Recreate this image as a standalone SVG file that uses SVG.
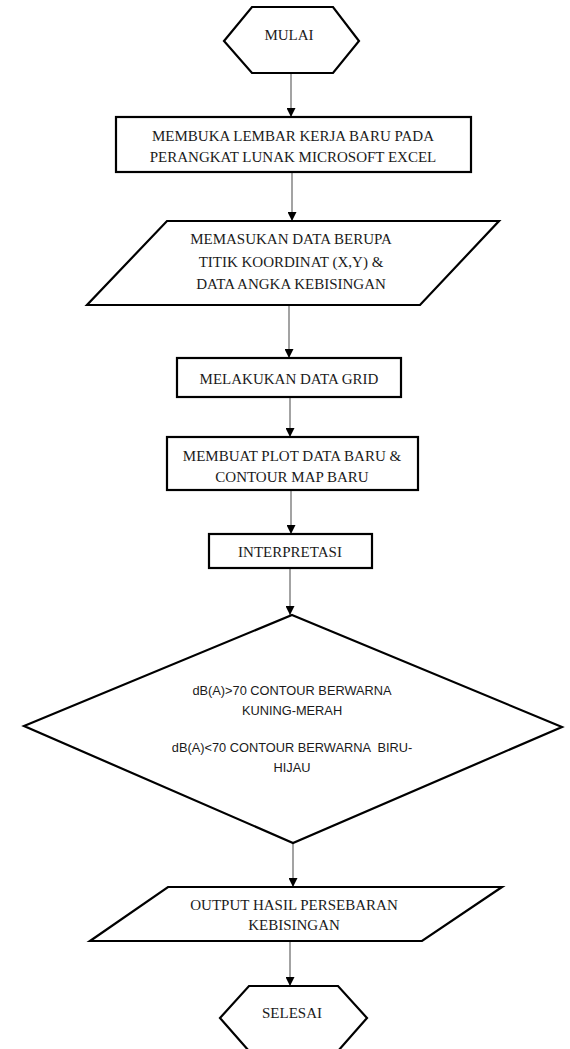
<svg xmlns="http://www.w3.org/2000/svg" width="570" height="1049" viewBox="0 0 570 1049">
<style>
.shape{fill:#fff;stroke:#000;stroke-width:2.2;stroke-linejoin:miter}
.serif{font-family:"Liberation Serif","Times New Roman",serif;font-size:15px;fill:#1a1a1a;text-anchor:middle}
.sans{font-family:"Liberation Sans",Arial,sans-serif;font-size:12.8px;fill:#1a1a1a;text-anchor:middle;white-space:pre}
.conn{stroke:#666;stroke-width:1.2;fill:none;marker-end:url(#arrow)}
</style>
<defs>
<marker id="arrow" markerUnits="userSpaceOnUse" markerWidth="9" markerHeight="9" refX="9" refY="4.5" orient="auto">
<path d="M0,0 L9,4.5 L0,9 z" fill="#000"/>
</marker>
</defs>
<rect width="570" height="1049" fill="#fff"/>
<g id="connectors">
<line class="conn" x1="291" y1="73" x2="291" y2="117"/>
<line class="conn" x1="292" y1="172" x2="292" y2="221"/>
<line class="conn" x1="289" y1="305" x2="289" y2="358"/>
<line class="conn" x1="290" y1="397" x2="290" y2="437"/>
<line class="conn" x1="291" y1="490" x2="291" y2="534"/>
<line class="conn" x1="290" y1="568" x2="290" y2="615"/>
<line class="conn" x1="293" y1="843" x2="293" y2="887"/>
<line class="conn" x1="290" y1="941" x2="290" y2="986"/>
</g>
<g id="mulai">
<polygon class="shape" points="252,7 333,7 359,41 333,73 252,73 224,41"/>
<text class="serif" x="289" y="40">MULAI</text>
</g>
<g id="membuka">
<rect class="shape" x="116" y="117" width="355" height="55"/>
<text class="serif" x="293" y="141">MEMBUKA LEMBAR KERJA BARU PADA</text>
<text class="serif" x="293" y="161.5">PERANGKAT LUNAK MICROSOFT EXCEL</text>
</g>
<g id="memasukan">
<polygon class="shape" points="167,221 499,221 420,305 87,305"/>
<text class="serif" x="291" y="244">MEMASUKAN DATA BERUPA</text>
<text class="serif" x="291" y="267">TITIK KOORDINAT (X,Y) &amp;</text>
<text class="serif" x="291" y="289">DATA ANGKA KEBISINGAN</text>
</g>
<g id="grid">
<rect class="shape" x="177" y="358" width="224" height="39"/>
<text class="serif" x="289" y="384">MELAKUKAN DATA GRID</text>
</g>
<g id="plot">
<rect class="shape" x="167" y="437" width="251" height="53"/>
<text class="serif" x="292" y="461">MEMBUAT PLOT DATA BARU &amp;</text>
<text class="serif" x="292" y="482">CONTOUR MAP BARU</text>
</g>
<g id="interpretasi">
<rect class="shape" x="209" y="534" width="163" height="34"/>
<text class="serif" x="290" y="557">INTERPRETASI</text>
</g>
<g id="keputusan">
<polygon class="shape" points="292,615 562,727 293,843 24,726"/>
<text class="sans" x="292" y="695">dB(A)&gt;70 CONTOUR BERWARNA</text>
<text class="sans" x="292" y="715">KUNING-MERAH</text>
<text class="sans" x="292" y="752">dB(A)&lt;70 CONTOUR BERWARNA  BIRU-</text>
<text class="sans" x="292" y="772">HIJAU</text>
</g>
<g id="output">
<polygon class="shape" points="168,887 502,887 422,941 90,941"/>
<text class="serif" x="294" y="910">OUTPUT HASIL PERSEBARAN</text>
<text class="serif" x="294" y="930">KEBISINGAN</text>
</g>
<g id="selesai">
<polygon class="shape" points="249,986 338,986 367,1018 338,1051 249,1051 220,1018"/>
<text class="serif" x="292" y="1018">SELESAI</text>
</g>
</svg>
